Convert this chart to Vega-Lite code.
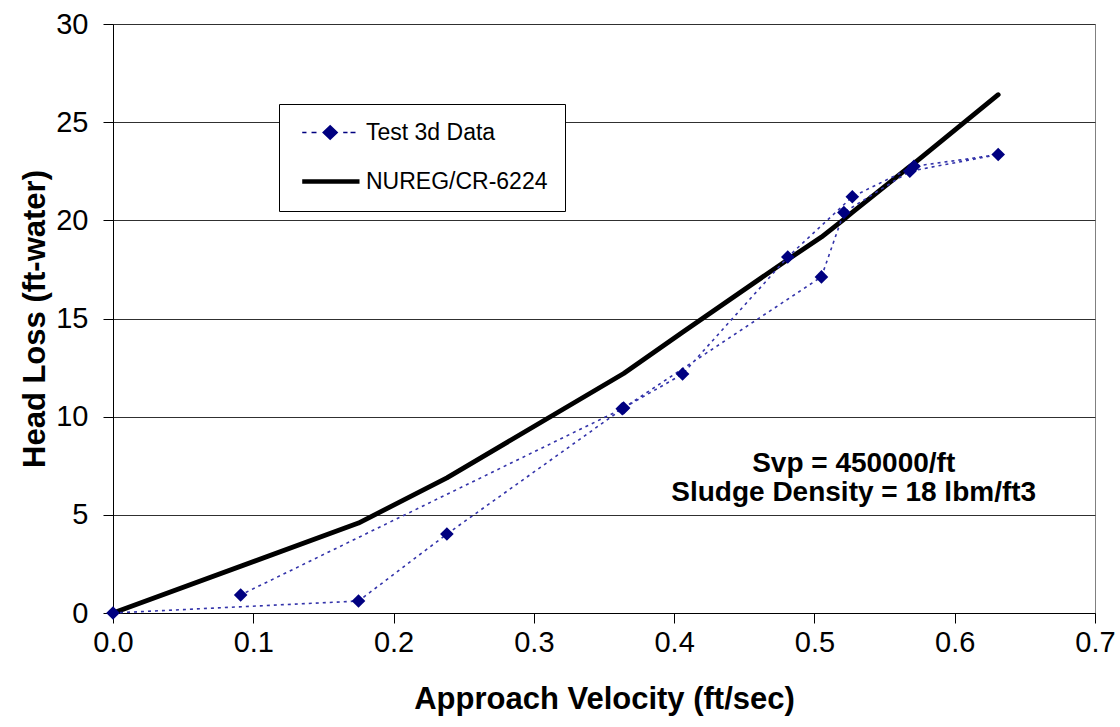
{
  "$schema": "https://vega.github.io/schema/vega-lite/v6.json",
  "width": 982,
  "height": 589,
  "autosize": "none",
  "padding": {"left": 113, "top": 24, "right": 25, "bottom": 114},
  "background": "white",
  "config": {
    "font": "Liberation Sans",
    "view": {"stroke": "#808080", "strokeWidth": 1},
    "axis": {
      "labelFont": "Liberation Sans",
      "labelFontSize": 29,
      "labelColor": "black",
      "titleFont": "Liberation Sans",
      "titleFontSize": 31,
      "titleFontWeight": "bold",
      "titleColor": "black",
      "domainColor": "black",
      "domainWidth": 1,
      "tickColor": "black",
      "tickSize": 10
    }
  },
  "datasets": {
    "series": [
      {"series": "NUREG/CR-6224", "order": 1, "velocity": 0.0, "headloss": 0.0},
      {"series": "NUREG/CR-6224", "order": 2, "velocity": 0.175, "headloss": 4.58},
      {"series": "NUREG/CR-6224", "order": 3, "velocity": 0.238, "headloss": 6.88},
      {"series": "NUREG/CR-6224", "order": 4, "velocity": 0.364, "headloss": 12.2},
      {"series": "NUREG/CR-6224", "order": 5, "velocity": 0.406, "headloss": 14.3},
      {"series": "NUREG/CR-6224", "order": 6, "velocity": 0.481, "headloss": 18.0},
      {"series": "NUREG/CR-6224", "order": 7, "velocity": 0.505, "headloss": 19.15},
      {"series": "NUREG/CR-6224", "order": 8, "velocity": 0.521, "headloss": 20.05},
      {"series": "NUREG/CR-6224", "order": 9, "velocity": 0.527, "headloss": 20.4},
      {"series": "NUREG/CR-6224", "order": 10, "velocity": 0.568, "headloss": 22.75},
      {"series": "NUREG/CR-6224", "order": 11, "velocity": 0.571, "headloss": 22.9},
      {"series": "NUREG/CR-6224", "order": 12, "velocity": 0.631, "headloss": 26.4},
      {"series": "Test 3d Data", "order": 1, "velocity": 0.0, "headloss": 0.0},
      {"series": "Test 3d Data", "order": 2, "velocity": 0.175, "headloss": 0.61},
      {"series": "Test 3d Data", "order": 3, "velocity": 0.238, "headloss": 4.02},
      {"series": "Test 3d Data", "order": 4, "velocity": 0.364, "headloss": 10.44},
      {"series": "Test 3d Data", "order": 5, "velocity": 0.406, "headloss": 12.17},
      {"series": "Test 3d Data", "order": 6, "velocity": 0.481, "headloss": 18.13},
      {"series": "Test 3d Data", "order": 7, "velocity": 0.527, "headloss": 21.2},
      {"series": "Test 3d Data", "order": 8, "velocity": 0.571, "headloss": 22.75},
      {"series": "Test 3d Data", "order": 9, "velocity": 0.631, "headloss": 23.35},
      {"series": "Test 3d Data", "order": 10, "velocity": 0.568, "headloss": 22.5},
      {"series": "Test 3d Data", "order": 11, "velocity": 0.521, "headloss": 20.4},
      {"series": "Test 3d Data", "order": 12, "velocity": 0.505, "headloss": 17.12},
      {"series": "Test 3d Data", "order": 13, "velocity": 0.363, "headloss": 10.4},
      {"series": "Test 3d Data", "order": 14, "velocity": 0.091, "headloss": 0.92}
    ],
    "notes": [
      {"velocity": 0.528, "headloss": 7.6, "note": "Svp = 450000/ft\nSludge Density = 18 lbm/ft3"}
    ]
  },
  "data": {"name": "series"},
  "encoding": {
    "x": {
      "field": "velocity",
      "type": "quantitative",
      "title": "Approach Velocity (ft/sec)",
      "scale": {"domain": [0, 0.7], "nice": false, "zero": false},
      "axis": {"values": [0, 0.1, 0.2, 0.3, 0.4, 0.5, 0.6, 0.7], "format": ".1f", "grid": false, "labelPadding": 5, "titlePadding": 27, "labelFlush": false}
    },
    "y": {
      "field": "headloss",
      "type": "quantitative",
      "title": "Head Loss (ft-water)",
      "scale": {"domain": [0, 30], "nice": false},
      "axis": {"values": [0, 5, 10, 15, 20, 25, 30], "grid": true, "gridColor": "#303030", "gridWidth": 1, "gridOpacity": 1, "labelPadding": 15, "titlePadding": 4, "labelFlush": false}
    }
  },
  "layer": [
    {
      "transform": [{"filter": "datum.series === 'NUREG/CR-6224'"}],
      "mark": {"type": "line", "strokeWidth": 4.8, "strokeCap": "round", "strokeJoin": "round"},
      "encoding": {
        "order": {"field": "order", "type": "quantitative"},
        "color": {
          "field": "series",
          "type": "nominal",
          "scale": {"domain": ["Test 3d Data", "NUREG/CR-6224"], "range": ["#000080", "#000000"]},
          "legend": {
            "orient": "none",
            "legendX": 166,
            "legendY": 80,
            "title": null,
            "direction": "vertical",
            "fillColor": "white",
            "strokeColor": "black",
            "padding": 17,
            "symbolSize": 144,
            "rowPadding": 25,
            "labelFont": "Liberation Sans",
            "labelFontSize": 23,
            "labelColor": "black",
            "labelOffset": 47,
            "labelLimit": 0,
            "encode": {
              "symbols": {
                "update": {
                  "shape": {"signal": "datum.value === 'Test 3d Data' ? 'M-0.88,0L-0.17,0M0.67,0L1.5,0M5.95,0L6.67,0M7.17,0L8,0M3.78,-1.1L4.95,0L3.78,1.1L2.61,0Z' : 'M-0.88,0L8.67,0'"},
                  "fill": {"signal": "datum.value === 'Test 3d Data' ? '#000080' : 'transparent'"},
                  "stroke": {"signal": "datum.value === 'Test 3d Data' ? '#3030a0' : '#000000'"},
                  "strokeWidth": {"signal": "datum.value === 'Test 3d Data' ? 1.5 : 4.5"},
                  "opacity": {"value": 1}
                }
              }
            }
          }
        }
      }
    },
    {
      "transform": [{"filter": "datum.series === 'Test 3d Data'"}],
      "mark": {"type": "line", "stroke": "#3333aa", "strokeWidth": 1.6, "strokeDash": [3, 4]},
      "encoding": {
        "order": {"field": "order", "type": "quantitative"}
      }
    },
    {
      "transform": [{"filter": "datum.series === 'Test 3d Data'"}],
      "mark": {"type": "point", "shape": "diamond", "filled": true, "fill": "#000080", "size": 185, "opacity": 1, "strokeWidth": 0}
    },
    {
      "data": {"name": "notes"},
      "mark": {"type": "text", "font": "Liberation Sans", "fontSize": 28, "fontWeight": "bold", "color": "black", "align": "center", "baseline": "middle", "lineBreak": "\n", "lineHeight": 29},
      "encoding": {
        "text": {"field": "note"}
      }
    }
  ]
}
